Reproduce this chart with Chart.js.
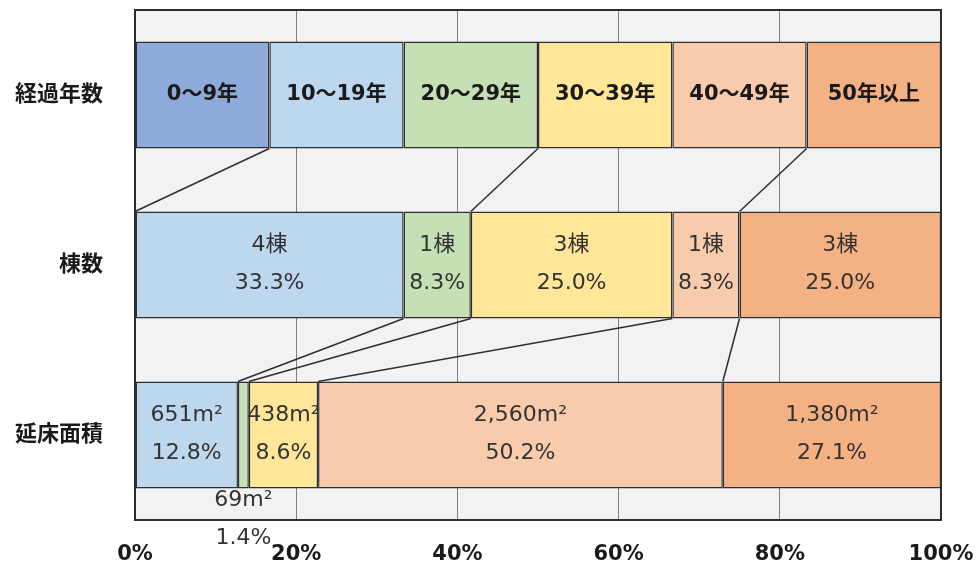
<!DOCTYPE html>
<html>
<head>
<meta charset="utf-8">
<script src="https://cdn.jsdelivr.net/npm/chart.js@4.4.1/dist/chart.umd.min.js"></script>
<style>
  html, body { margin: 0; padding: 0; background: #fff; }
  #wrap { width: 979px; height: 563px; }
</style>
</head>
<body>
<div id="wrap"><canvas id="grafico" width="979" height="563"></canvas></div>
<script>
// 行ラベル
const rowLabels = ['経過年数', '棟数', '延床面積'];
// 経過年数の区分
const ageLabels = ['0～9年', '10～19年', '20～29年', '30～39年', '40～49年', '50年以上'];
// 各行の値 (1行目は区分ごとに均等)
const ageBand = [1, 1, 1, 1, 1, 1];
const buildingCounts = [0, 4, 1, 3, 1, 3];
const floorAreas = [0, 651, 69, 438, 2560, 1380];
const xTicks = [0, 20, 40, 60, 80, 100];

const colors = ['#8eaadb', '#bdd7ee', '#c5e0b4', '#ffe699', '#f8cbad', '#f4b183'];
const fontFam = '"DejaVu Sans", "Noto Sans CJK JP", sans-serif';

function toPct(arr) {
    var total = arr.reduce((a, b) => a + b, 0);
    return arr.map(v => v / total * 100);
}

var pctAge = toPct(ageBand);
var pctCount = toPct(buildingCounts);
var pctArea = toPct(floorAreas);

var datasets = ageLabels.map((name, i) => ({
    label: name,
    data: [pctAge[i], pctCount[i], pctArea[i]],
    backgroundColor: colors[i],
    borderColor: '#2e2e2e',
    borderWidth: 1.5,
    borderSkipped: false,
    categoryPercentage: 1,
    barPercentage: 0.63
}));

// 背景と枠
const plotBg = {
    id: 'plotBg',
    beforeDraw(chart) {
        const { ctx, chartArea: a } = chart;
        ctx.save();
        ctx.fillStyle = '#f2f2f2';
        ctx.fillRect(a.left, a.top, a.right - a.left, a.bottom - a.top);
        ctx.restore();
    },
    afterDatasetsDraw(chart) {
        const { ctx, chartArea: a } = chart;
        ctx.save();
        ctx.strokeStyle = '#2e2e2e';
        ctx.lineWidth = 2;
        ctx.strokeRect(a.left, a.top, a.right - a.left, a.bottom - a.top);

        // 行どうしをつなぐ線
        const links = [
            { from: 0, ends: [0, 2, 4] },
            { from: 1, ends: [1, 2, 3, 4] }
        ];
        ctx.lineWidth = 1.5;
        links.forEach(l => {
            l.ends.forEach(d => {
                var top = chart.getDatasetMeta(d).data[l.from];
                var bot = chart.getDatasetMeta(d).data[l.from + 1];
                ctx.beginPath();
                ctx.moveTo(top.x, top.y + top.height / 2);
                ctx.lineTo(bot.x, bot.y - bot.height / 2);
                ctx.stroke();
            });
        });
        ctx.restore();
    }
};

// 棒の中の文字
const barText = {
    id: 'barText',
    afterDatasetsDraw(chart) {
        const ctx = chart.ctx;
        ctx.save();
        ctx.textAlign = 'center';
        ctx.textBaseline = 'middle';
        chart.data.datasets.forEach((ds, d) => {
            chart.getDatasetMeta(d).data.forEach((bar, r) => {
                var cx = (bar.x + bar.base) / 2;
                var w = Math.abs(bar.x - bar.base);
                if (r === 0) {
                    ctx.font = 'bold 21px ' + fontFam;
                    ctx.fillStyle = '#1a1a1a';
                    ctx.fillText(ageLabels[d], cx, bar.y);
                    return;
                }
                var raw = r === 1 ? buildingCounts[d] : floorAreas[d];
                if (!raw) return;
                var line1 = r === 1 ? raw + '棟' : raw.toLocaleString('en-US') + 'm²';
                var line2 = ds.data[r].toFixed(1) + '%';
                ctx.font = '22px ' + fontFam;
                ctx.fillStyle = '#333333';
                if (w < 30) {
                    var b = bar.y + bar.height / 2;
                    ctx.fillText(line1, cx, b + 12);
                    ctx.fillText(line2, cx, b + 50);
                } else {
                    ctx.fillText(line1, cx, bar.y - 20);
                    ctx.fillText(line2, cx, bar.y + 18);
                }
            });
        });
        ctx.restore();
    }
};

new Chart(document.getElementById('grafico'), {
    type: 'bar',
    data: { labels: rowLabels, datasets },
    options: {
        indexAxis: 'y',
        responsive: false,
        animation: false,
        layout: { padding: { top: 10, right: 0, left: 0, bottom: 0 } },
        plugins: { legend: { display: false }, tooltip: { enabled: false } },
        scales: {
            x: {
                stacked: true,
                min: 0,
                max: 100,
                afterBuildTicks: s => { s.ticks = xTicks.map(v => ({ value: v })); },
                ticks: {
                    callback: v => v + '%',
                    color: '#1a1a1a',
                    padding: 22,
                    maxRotation: 0,
                    font: { family: fontFam, size: 21, weight: 'bold' }
                },
                grid: { color: '#808080', lineWidth: 1, drawTicks: false },
                border: { display: false },
                afterFit: s => {
                    s.height = 43;
                    s.paddingLeft = 0;
                    s.paddingRight = 38;
                }
            },
            y: {
                stacked: true,
                ticks: {
                    color: '#1a1a1a',
                    padding: 32,
                    font: { family: fontFam, size: 22, weight: 'bold' }
                },
                grid: { display: false, drawTicks: false },
                border: { display: false },
                afterFit: s => {
                    s.width = 135;
                    s.paddingTop = 0;
                    s.paddingBottom = 0;
                }
            }
        }
    },
    plugins: [plotBg, barText]
});
</script>
</body>
</html>
